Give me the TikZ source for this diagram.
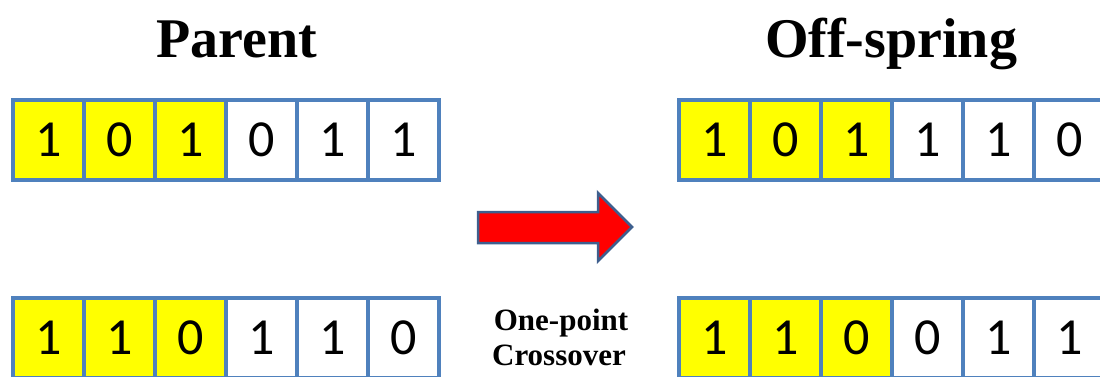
\documentclass[tikz,border=0pt]{standalone}
\usepackage{fontspec}
\setmainfont{Liberation Serif}
\newfontfamily\digitfont{Carlito}
\definecolor{cellblue}{HTML}{4F81BD}
\definecolor{cellyellow}{HTML}{FFFF00}
\definecolor{arrowred}{HTML}{FF0000}
\definecolor{arrowedge}{HTML}{3E5F8E}
\begin{document}
\begin{tikzpicture}[x=1pt,y=-1pt,
  cell/.style={draw=cellblue, line width=3.5pt, minimum width=71pt, minimum height=80pt,
    inner sep=0pt, anchor=north west, font=\digitfont\fontsize{52}{52}\selectfont},
  title/.style={anchor=base, inner sep=0pt, font=\bfseries\fontsize{56}{56}\selectfont},
  caption/.style={anchor=base, inner sep=0pt, font=\bfseries\fontsize{31}{31}\selectfont}]
\useasboundingbox (0,0) rectangle (1100,376);
% Parents
\foreach \v/\c [count=\i] in {1/cellyellow,0/cellyellow,1/cellyellow,0/white,1/white,1/white}
  \node[cell, fill=\c] (pa\i) at ({11+71*(\i-1)},98) {\v};
\foreach \v/\c [count=\i] in {1/cellyellow,1/cellyellow,0/cellyellow,1/white,1/white,0/white}
  \node[cell, fill=\c] (pb\i) at ({11+71*(\i-1)},296) {\v};
% Offspring
\foreach \v/\c [count=\i] in {1/cellyellow,0/cellyellow,1/cellyellow,1/white,1/white,0/white}
  \node[cell, fill=\c] (oa\i) at ({677+71*(\i-1)},98) {\v};
\foreach \v/\c [count=\i] in {1/cellyellow,1/cellyellow,0/cellyellow,0/white,1/white,1/white}
  \node[cell, fill=\c] (ob\i) at ({677+71*(\i-1)},296) {\v};
% Titles
\node[title] (parent) at (237,57) {Parent};
\node[title] (offspring) at (891,57) {Off-spring};
% Caption
\node[caption] (cap1) at (561,330) {One-point};
\node[caption] (cap2) at (559,365) {Crossover};
% Block arrow
\draw[fill=arrowred, draw=arrowedge, line width=2.5pt, line join=miter]
  (478,212) -- (598,212) -- (598,193) -- (632,227) -- (598,261) -- (598,243) -- (478,243) -- cycle;
\end{tikzpicture}
\end{document}
